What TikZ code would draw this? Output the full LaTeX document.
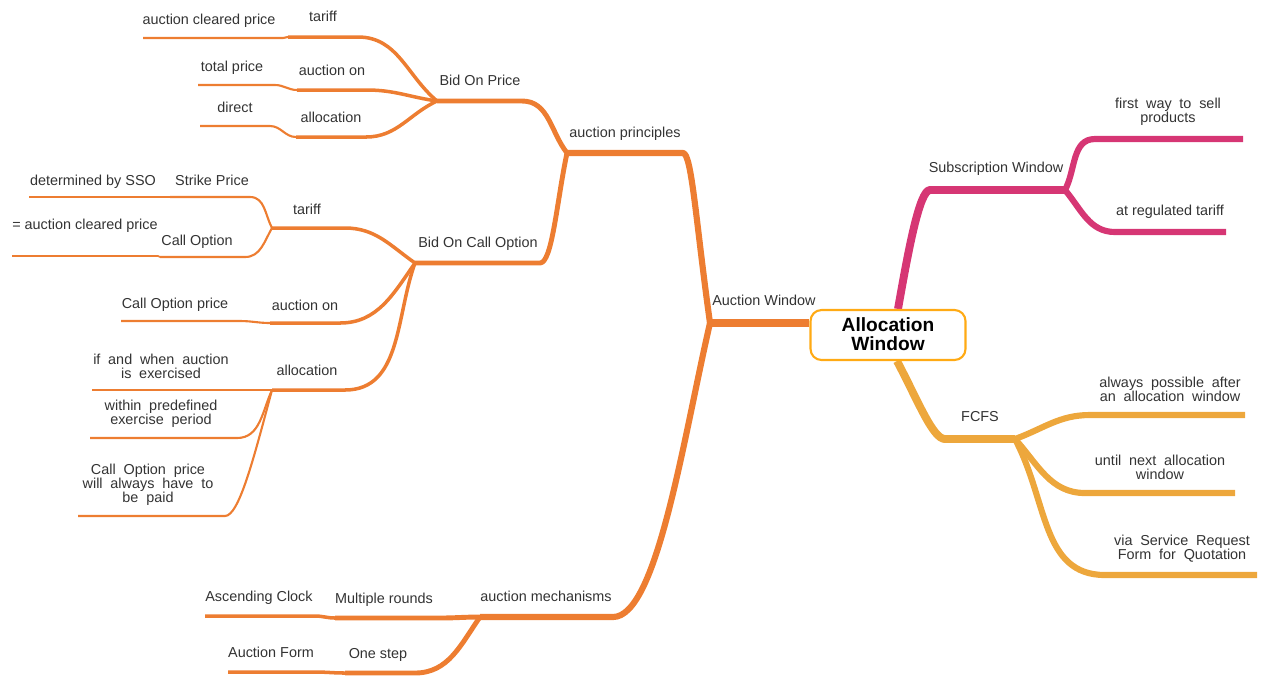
\documentclass[tikz,border=0pt]{standalone}
\usepackage{fontspec}
\setmainfont{Liberation Sans}
\usetikzlibrary{backgrounds}
\definecolor{auct}{RGB}{237,125,49}
\definecolor{subs}{RGB}{214,54,116}
\definecolor{fcfs}{RGB}{237,167,60}
\definecolor{rootline}{RGB}{255,170,20}
\definecolor{txt}{RGB}{51,51,51}
\newcommand{\widesp}{\spaceskip=.54em\relax}

\begin{document}
\begin{tikzpicture}[x=0.02cm,y=0.02cm]
    % `root' is the box in the middle.
    % `topic' is a one-line label, `note' one that runs over several lines.
    % `lvl1' to `lvl6' give the width of a branch from its depth.
    \tikzstyle{root} = [draw=rootline,line width=1.2pt,fill=white,rounded corners=2.2mm,
      minimum width=3.1cm,minimum height=1cm,align=center,
      font=\bfseries\fontsize{10.9}{10.8}\selectfont]
    \tikzstyle{topic} = [text=txt,inner sep=0pt,text height=5.9pt,text depth=1.7pt,yshift=-1.1pt,
      font=\fontsize{8.2}{8}\selectfont]
    \tikzstyle{note} = [text=txt,inner sep=0pt,align=center,yshift=-1.1pt,
      font={\fontsize{8.2}{7.9}\selectfont\widesp}]
    \tikzstyle{lvl1} = [line width=4.5pt]
    \tikzstyle{lvl2} = [line width=3.5pt]
    \tikzstyle{lvl3} = [line width=2.8pt]
    \tikzstyle{lvl4} = [line width=2pt]
    \tikzstyle{lvl5} = [line width=1.2pt]
    \tikzstyle{lvl6} = [line width=1pt]
    \useasboundingbox (0,0) rectangle (1266,-681);
    %
    \node[root] (root) at (888,-335) {\raisebox{1.1pt}{Allocation}\\\raisebox{1.1pt}{Window}};
    % Auction Window branch.
    \node[topic] (aw) at (764,-300) {Auction Window};
    \node[topic] (apr) at (625,-132) {auction principles};
    \node[topic] (amc) at (546,-596) {auction mechanisms};
    \node[topic] (bop) at (480,-80) {Bid On Price};
    \node[topic] (bco) at (478,-242) {Bid On Call Option};
    \node[topic] (t1) at (323,-16) {tariff};
    \node[topic] (ao1) at (332,-70) {auction on};
    \node[topic] (al1) at (331,-117) {allocation};
    \node[topic] (acp) at (209,-19) {auction cleared price};
    \node[topic] (tp) at (232,-66) {total price};
    \node[topic] (dir) at (235,-107) {direct};
    \node[topic] (t2) at (307,-209) {tariff};
    \node[topic] (sp) at (212,-180) {Strike Price};
    \node[topic] (dss) at (93,-180) {determined by SSO};
    \node[topic] (co) at (197,-240) {Call Option};
    \node[topic] (eacp) at (85,-224) {= auction cleared price};
    \node[topic] (ao2) at (305,-305) {auction on};
    \node[topic] (cop) at (175,-303) {Call Option price};
    \node[topic] (al2) at (307,-370) {allocation};
    \node[note] (iwa) at (161,-364) {if and when auction\\is exercised};
    \node[note] (wpe) at (161,-412) {within predefined\\exercise period};
    \node[note] (cpp) at (148,-483) {Call Option price\\will always have to\\be paid};
    \node[topic] (mr) at (384,-598) {Multiple rounds};
    \node[topic] (asc) at (259,-596) {Ascending Clock};
    \node[topic] (os) at (378,-653) {One step};
    \node[topic] (af) at (271,-652) {Auction Form};
    % Subscription Window branch.
    \node[topic] (sw) at (996,-167) {Subscription Window};
    \node[note] (fsp) at (1168,-110) {first way to sell\\products};
    \node[topic] (art) at (1170,-210) {at regulated tariff};
    % FCFS branch.
    \node[topic] (fc) at (980,-416) {FCFS};
    \node[note] (apa) at (1170,-387) {always possible after\\an allocation window};
    \node[note] (una) at (1160,-465) {until next allocation\\window};
    \node[note] (vsr) at (1182,-547) {via Service Request\\Form for Quotation};
    %
    % Ends of the branch lines: 0 next to the parent, 1 where the children start.
    \coordinate (aw1) at (710,-323);
    \coordinate (apr0) at (683,-153); \coordinate (apr1) at (567,-153);
    \coordinate (amc0) at (613,-617); \coordinate (amc1) at (480,-617);
    \coordinate (bop0) at (522,-101); \coordinate (bop1) at (437,-101);
    \coordinate (bco0) at (540,-263); \coordinate (bco1) at (415,-263);
    \coordinate (t10) at (358,-37); \coordinate (t11) at (288,-37);
    \coordinate (ao10) at (367,-90); \coordinate (ao11) at (297,-90);
    \coordinate (al10) at (366,-137); \coordinate (al11) at (296,-137);
    \coordinate (acp0) at (283,-38); \coordinate (acp1) at (143,-38);
    \coordinate (tp0) at (275,-85); \coordinate (tp1) at (198,-85);
    \coordinate (dir0) at (270,-126); \coordinate (dir1) at (200,-126);
    \coordinate (t20) at (345,-228); \coordinate (t21) at (272,-228);
    \coordinate (sp0) at (250,-197); \coordinate (sp1) at (170,-197);
    \coordinate (dss0) at (168,-197); \coordinate (dss1) at (29,-197);
    \coordinate (co0) at (245,-257); \coordinate (co1) at (160,-257);
    \coordinate (eacp0) at (158,-256); \coordinate (eacp1) at (12,-256);
    \coordinate (ao20) at (340,-323); \coordinate (ao21) at (270,-323);
    \coordinate (cop0) at (240,-321); \coordinate (cop1) at (121,-321);
    \coordinate (al20) at (345,-390); \coordinate (al21) at (272,-390);
    \coordinate (iwa1) at (92,-390);
    \coordinate (wpe0) at (237,-438); \coordinate (wpe1) at (90,-438);
    \coordinate (cpp0) at (225,-516); \coordinate (cpp1) at (78,-516);
    \coordinate (mr0) at (440,-618); \coordinate (mr1) at (335,-618);
    \coordinate (asc0) at (315,-616); \coordinate (asc1) at (205,-616);
    \coordinate (os0) at (415,-673); \coordinate (os1) at (345,-673);
    \coordinate (af0) at (315,-672); \coordinate (af1) at (228,-672);
    \coordinate (sw0) at (930,-190); \coordinate (sw1) at (1065,-190);
    \coordinate (fsp0) at (1095,-139); \coordinate (fsp1) at (1243,-139);
    \coordinate (art0) at (1115,-232); \coordinate (art1) at (1226,-232);
    \coordinate (fc0) at (945,-439); \coordinate (fc1) at (1015,-439);
    \coordinate (apa0) at (1090,-415); \coordinate (apa1) at (1245,-415);
    \coordinate (una0) at (1085,-493); \coordinate (una1) at (1235,-493);
    \coordinate (vsr0) at (1105,-575); \coordinate (vsr1) at (1257,-575);
    %
    \begin{pgfonlayer}{background}
      % Draw the auction branches.
      \begin{scope}[auct,line join=round]
        \draw[lvl1] (aw1 -| root.west) -- (aw1);
        \draw[lvl2] (aw1) to[out=98,in=0,out distance=57pt,in distance=5pt] (apr0) -- (apr1);
        \draw[lvl2] (aw1) to[out=257,in=0,out distance=68pt,in distance=25pt] (amc0) -- (amc1);
        \draw[lvl3] (apr1) to[out=128,in=0] (bop0) -- (bop1);
        \draw[lvl3] (apr1) to[out=258,in=0,out distance=28pt,in distance=7pt] (bco0) -- (bco1);
        \draw[lvl4] (bop1) to[out=140,in=0] (t10) -- (t11);
        \draw[lvl4] (bop1) to[out=172,in=0] (ao10) -- (ao11);
        \draw[lvl4] (bop1) to[out=205,in=0] (al10) -- (al11);
        \draw[lvl5] (t11) to[out=180,in=0] (acp0) -- (acp1);
        \draw[lvl5] (ao11) to[out=180,in=0] (tp0) -- (tp1);
        \draw[lvl5] (al11) to[out=180,in=0] (dir0) -- (dir1);
        \draw[lvl4] (bco1) to[out=145,in=0] (t20) -- (t21);
        \draw[lvl4] (bco1) to[out=235,in=0] (ao20) -- (ao21);
        \draw[lvl4] (bco1) to[out=250,in=0] (al20) -- (al21);
        \draw[lvl5] (t21) to[out=118,in=0] (sp0) -- (sp1);
        \draw[lvl5] (t21) to[out=240,in=0] (co0) -- (co1);
        \draw[lvl6] (sp1) -- (dss0) -- (dss1);
        \draw[lvl6] (co1) to[out=180,in=0] (eacp0) -- (eacp1);
        \draw[lvl5] (ao21) to[out=180,in=0] (cop0) -- (cop1);
        \draw[lvl5] (al21) -- (iwa1);
        \draw[lvl5] (al21) to[out=245,in=0] (wpe0) -- (wpe1);
        \draw[lvl5] (al21) to[out=255,in=0,out distance=40pt,in distance=8pt] (cpp0) -- (cpp1);
        \draw[lvl3] (amc1) to[out=180,in=0] (mr0) -- (mr1);
        \draw[lvl3] (amc1) to[out=235,in=0] (os0) -- (os1);
        \draw[lvl4] (mr1) to[out=180,in=0] (asc0) -- (asc1);
        \draw[lvl4] (os1) to[out=180,in=0] (af0) -- (af1);
      \end{scope}
      % Draw the Subscription Window branches.
      \begin{scope}[subs,line join=round]
        \draw[lvl1] ([xshift=0.2cm]root.north) to[out=80,in=180,out distance=34pt,in distance=6pt] (sw0) -- (sw1);
        \draw[lvl2] (sw1) to[out=62,in=180] (fsp0) -- (fsp1);
        \draw[lvl2] (sw1) to[out=-50,in=180] (art0) -- (art1);
      \end{scope}
      % Draw the FCFS branches.
      \begin{scope}[fcfs,line join=round]
        \draw[lvl1] ([xshift=0.18cm]root.south) to[out=-62,in=180,out distance=25pt,in distance=7pt] (fc0) -- (fc1);
        \draw[lvl2] (fc1) to[out=20,in=180] (apa0) -- (apa1);
        \draw[lvl2] (fc1) to[out=-48,in=180] (una0) -- (una1);
        \draw[lvl2] (fc1) to[out=-62,in=180,out distance=40pt] (vsr0) -- (vsr1);
      \end{scope}
    \end{pgfonlayer}
\end{tikzpicture}
\end{document}
